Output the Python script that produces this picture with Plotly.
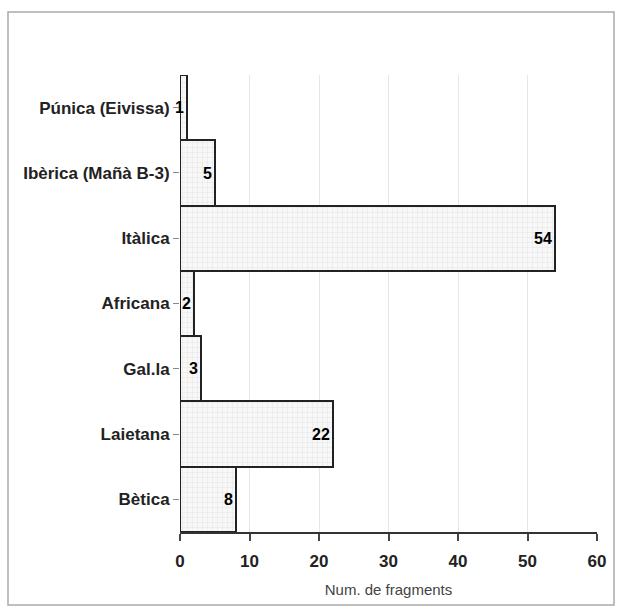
import plotly.graph_objects as go

categories = ["Bètica", "Laietana", "Gal.la", "Africana", "Itàlica", "Ibèrica (Mañà B-3)", "Púnica (Eivissa)"]
values = [8, 22, 3, 2, 54, 5, 1]
x_ticks = [0, 10, 20, 30, 40, 50, 60]

W, H = 624, 613
L, R, T, B = 180, 27, 75, 81
pw, ph = W - L - R, H - T - B

def px_x(p):
    return (p - L) / pw

def px_y(p):
    return (H - B - p) / ph

fig = go.Figure()
fig.add_trace(go.Bar(
    y=categories, x=values, orientation="h",
    text=[str(v) for v in values],
    textposition="inside", insidetextanchor="end", constraintext="none",
    textfont=dict(family="Liberation Sans", size=16, color="black", weight="bold"),
    marker=dict(color="#f6f6f6", line=dict(color="#222222", width=2),
                pattern=dict(shape="+", fgcolor="#cfcfcf", bgcolor="#f8f8f8", size=5, solidity=0.2)),
    cliponaxis=False,
))

fig.update_layout(
    width=W, height=H,
    margin=dict(l=L, r=R, t=T, b=B),
    paper_bgcolor="white", plot_bgcolor="white",
    bargap=0, showlegend=False,
    font=dict(family="Liberation Sans", color="#222222"),
    xaxis=dict(range=[0, 60], tickvals=x_ticks, ticktext=[str(v) for v in x_ticks],
               showgrid=True, gridcolor="#e6e6e6", gridwidth=1, zeroline=False,
               showline=True, linecolor="#333333", linewidth=1.5,
               ticks="outside", ticklen=7, tickcolor="#444444", tickwidth=1.5,
               ticklabelstandoff=6,
               tickfont=dict(size=17, weight="bold", color="#222222"),
               title=dict(text="Num. de fragments", font=dict(size=15, color="#444444"), standoff=14)),
    yaxis=dict(range=[-0.5, 6.5], showgrid=False, zeroline=False, showline=False,
               ticks="outside", ticklen=6, tickcolor="#888888",
               tickfont=dict(size=17, weight="bold", color="#222222")),
    shapes=[dict(type="rect", xref="paper", yref="paper",
                 x0=px_x(8), x1=px_x(614), y0=px_y(605), y1=px_y(12),
                 line=dict(color="#aaaaaa", width=1.5))],
)

fig.write_html("out.html", post_script="document.body.style.margin='0';",
               config={"displayModeBar": False})
